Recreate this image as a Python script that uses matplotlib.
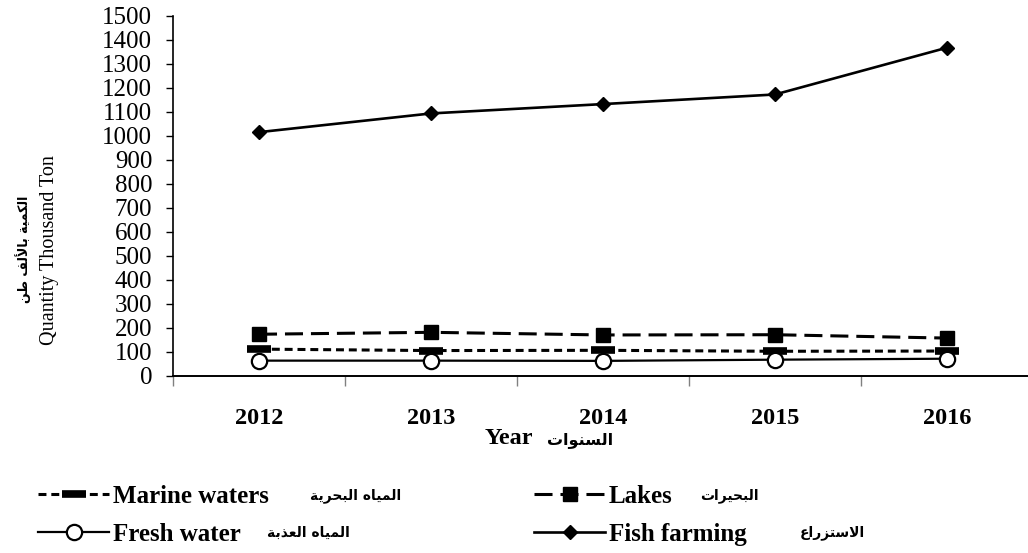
import numpy as np
import matplotlib
matplotlib.use('Agg')
import matplotlib.pyplot as plt

# datos (miles de toneladas)
years = ['2012', '2013', '2014', '2015', '2016']
marine_waters = [112, 106, 107, 103, 104]
lakes = [174, 182, 171, 172, 158]
fresh_water = [64, 64, 63, 68, 72]
fish_farming = [1016, 1094, 1133, 1173, 1368]

y_ticks = list(range(0, 1501, 100))

# formas de presentacion arabes (matplotlib no hace shaping)
AR_BASE = {'ا': (0xFE8D, 2), 'أ': (0xFE83, 2), 'ب': (0xFE8F, 4), 'ة': (0xFE93, 2),
           'ت': (0xFE95, 4), 'ح': (0xFEA1, 4), 'ذ': (0xFEAB, 2), 'ر': (0xFEAD, 2),
           'ز': (0xFEAF, 2), 'س': (0xFEB1, 4), 'ط': (0xFEC1, 4), 'ع': (0xFEC9, 4),
           'ف': (0xFED1, 4), 'ك': (0xFED9, 4), 'ل': (0xFEDD, 4), 'م': (0xFEE1, 4),
           'ن': (0xFEE5, 4), 'ه': (0xFEE9, 4), 'و': (0xFEED, 2), 'ي': (0xFEF1, 4)}
LAM_ALEF = {'ا': 0xFEFB, 'أ': 0xFEF7}


def arabic(text):
    words = []
    for word in text.split(' '):
        toks = []
        i = 0
        while i < len(word):
            c = word[i]
            if c == 'ل' and i + 1 < len(word) and word[i + 1] in LAM_ALEF:
                toks.append((LAM_ALEF[word[i + 1]], 2))
                i += 2
            else:
                toks.append(AR_BASE[c])
                i += 1
        out = ''
        for k, (b, n) in enumerate(toks):
            prev = k > 0 and toks[k - 1][1] == 4
            nxt = k + 1 < len(toks) and n == 4
            if prev and nxt:
                cp = b + 3
            elif nxt:
                cp = b + 2
            elif prev:
                cp = b + 1
            else:
                cp = b
            out += chr(cp)
        words.append(out[::-1])
    return ' '.join(words[::-1])


SERIF = ['Liberation Serif', 'DejaVu Serif']
AR_FONT = ['DejaVu Sans']

fig = plt.figure(figsize=(10.28, 5.53), dpi=100)
ax = fig.add_axes([173 / 1028, 177 / 553, 860 / 1028, 360 / 553])

x = np.arange(len(years))
l_marine, = ax.plot(x, marine_waters, color='black', lw=2.2, dashes=(2.6, 1.6),
                    marker='_', ms=17, mew=5.5, label='Marine waters')
l_lakes, = ax.plot(x, lakes, color='black', lw=2.2, dashes=(5.9, 2.6),
                   marker='s', ms=9.5, label='Lakes')
l_fresh, = ax.plot(x, fresh_water, color='black', lw=1.6, marker='o', ms=11,
                   mfc='white', mec='black', mew=1.6, label='Fresh water')
l_fish, = ax.plot(x, fish_farming, color='black', lw=1.9, marker='D', ms=7.5,
                  label='Fish farming')

ax.set_xlim(-0.5, len(years) - 0.5)
ax.set_ylim(0, 1500)
ax.set_yticks(y_ticks)
ax.set_yticklabels([str(v) for v in y_ticks], fontsize=18, family=SERIF)
ax.tick_params(axis='y', direction='out', length=5, width=1, pad=10)

ax.set_xticks(np.arange(len(years) + 1) - 0.5)
ax.set_xticklabels([])
ax.tick_params(axis='x', which='major', direction='out', length=7, width=1, color='#808080')
ax.set_xticks(x, minor=True)
ax.set_xticklabels(years, minor=True, fontsize=17.5, fontweight='bold', family=SERIF)
ax.tick_params(axis='x', which='minor', length=0, pad=23)

for s in ['top', 'right']:
    ax.spines[s].set_visible(False)
ax.spines['left'].set_linewidth(1.2)
ax.spines['bottom'].set_linewidth(1.4)

# etiquetas de ejes
fig.text(50 / 1028, 1 - 250 / 553, 'Quantity Thousand Ton', rotation=90,
         ha='center', va='center', fontsize=14.5, family=SERIF)
fig.text(23 / 1028, 1 - 249 / 553, arabic('الكمية بالألف طن'), rotation=90,
         ha='center', va='center', fontsize=9, fontweight='bold', family=AR_FONT)
fig.text(485 / 1028, 1 - 438 / 553, 'Year', ha='left', va='center',
         fontsize=17.5, fontweight='bold', family=SERIF)
fig.text(547 / 1028, 1 - 440 / 553, arabic('السنوات'), ha='left', va='center',
         fontsize=11.5, fontweight='bold', family=AR_FONT)

# leyenda
leg = fig.legend([l_marine, l_fresh, l_lakes, l_fish],
                 ['Marine waters', 'Fresh water', 'Lakes', 'Fish farming'],
                 ncol=2, loc='upper left', bbox_to_anchor=(38 / 1028, 1 - 485 / 553),
                 frameon=False, borderpad=0, borderaxespad=0, numpoints=1,
                 handlelength=2.85, handletextpad=0.15, columnspacing=10.6,
                 labelspacing=0.6, prop={'family': SERIF, 'weight': 'bold', 'size': 18})

fig.text(310 / 1028, 1 - 496 / 553, arabic('المياه البحرية'), ha='left', va='center',
         fontsize=10, fontweight='bold', family=AR_FONT)
fig.text(267 / 1028, 1 - 533 / 553, arabic('المياه العذبة'), ha='left', va='center',
         fontsize=10, fontweight='bold', family=AR_FONT)
fig.text(700 / 1028, 1 - 496 / 553, arabic('البحيرات'), ha='left', va='center',
         fontsize=10, fontweight='bold', family=AR_FONT)
fig.text(800 / 1028, 1 - 533 / 553, arabic('الاستزراع'), ha='left', va='center',
         fontsize=10, fontweight='bold', family=AR_FONT)

fig.savefig('out.png', dpi=100, facecolor='white')
